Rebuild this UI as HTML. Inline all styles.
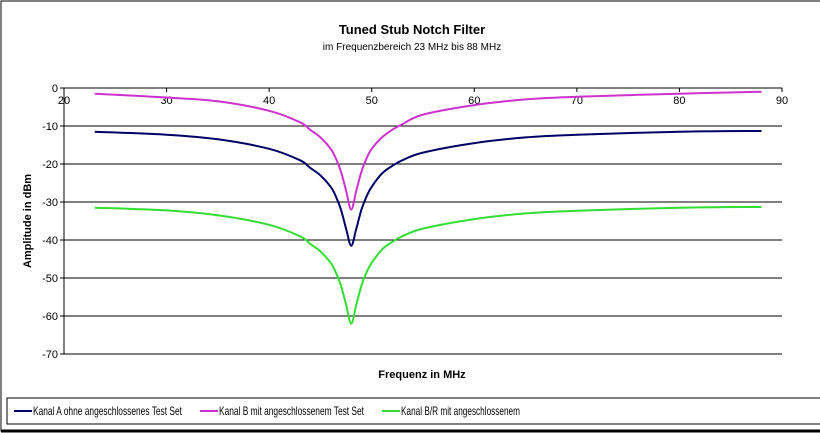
<!DOCTYPE html>
<html><head><meta charset="utf-8"><style>
body{margin:0;background:#fff;}
svg{display:block;font-family:"Liberation Sans",Arial,sans-serif;}
</style></head><body>
<svg id="chart" width="820" height="433" viewBox="0 0 820 433">
<rect x="1" y="1" width="822" height="430" fill="#fff" stroke="#000" stroke-width="1"/>
<line x1="1" y1="431" x2="820" y2="431" stroke="#000" stroke-width="3"/>
<text x="412" y="34" text-anchor="middle" font-size="13" font-weight="bold">Tuned Stub Notch Filter</text>
<text x="412" y="50" text-anchor="middle" font-size="10">im Frequenzbereich 23 MHz bis 88 MHz</text>
<g id="grid"></g><g id="axes"></g><g id="series"></g>
<text x="422" y="378" text-anchor="middle" font-size="11" font-weight="bold">Frequenz in MHz</text>
<text transform="translate(31,221) rotate(-90)" text-anchor="middle" font-size="11" font-weight="bold">Amplitude in dBm</text>
<g>
<rect x="7" y="398" width="820" height="26" fill="#fff" stroke="#000"/>
<g><line x1="14" y1="411" x2="32" y2="411" stroke="#000066" stroke-width="2"/><text x="33" y="415" font-size="12" textLength="149" lengthAdjust="spacingAndGlyphs">Kanal A ohne angeschlossenes Test Set</text></g>
<g><line x1="200" y1="411" x2="218" y2="411" stroke="#cc33cc" stroke-width="2"/><text x="219" y="415" font-size="12" textLength="145" lengthAdjust="spacingAndGlyphs">Kanal B mit angeschlossenem Test Set</text></g>
<g><line x1="382" y1="411" x2="400" y2="411" stroke="#33dd33" stroke-width="2"/><text x="401" y="415" font-size="12" textLength="119" lengthAdjust="spacingAndGlyphs">Kanal B/R mit angeschlossenem</text></g>
</g>
</svg>
<script>
const freqs=[23,30,35,40,43,44,45,46,46.5,47,47.5,48,48.5,49,49.5,50,51,52,53,55,60,65,70,80,88];
const kanalA=[-11.5,-12.3,-13.5,-16,-19,-21,-23,-26,-28.5,-32,-37,-41.5,-37,-32,-28.5,-26,-22.5,-20.5,-19,-17,-14.5,-13,-12.3,-11.5,-11.3];
const kanalB=[-1.5,-2.5,-3.5,-6,-9,-11,-13,-16,-18.5,-22,-27,-32,-27,-22,-18.5,-16,-13,-11,-9.5,-7,-4.5,-3,-2.3,-1.5,-1];
const kanalBR=[-31.5,-32.2,-33.5,-36,-39,-41,-43,-46,-48.5,-52,-57,-62,-57,-52,-48.5,-46,-42.5,-40.5,-39,-37,-34.5,-33,-32.3,-31.5,-31.3];
const xTicks=[20,30,40,50,60,70,80,90];
const yTicks=[0,-10,-20,-30,-40,-50,-60,-70];
const X0=64,X1=782,Y0=88,Y1=354;
const sx=v=>X0+(v-20)/70*(X1-X0);
const sy=v=>Y0+(0-v)/70*(Y1-Y0);
const NS="http://www.w3.org/2000/svg";
function mk(t,a,p){const e=document.createElementNS(NS,t);for(const k in a)e.setAttribute(k,a[k]);p.appendChild(e);return e;}
const grid=document.getElementById('grid'),axes=document.getElementById('axes'),ser=document.getElementById('series');
yTicks.forEach(v=>{
 if(v<0){const g=mk('line',{x1:X0,x2:X1,y1:sy(v),y2:sy(v),stroke:'#000','stroke-width':1},grid);
 
 }
 mk('line',{x1:X0-4,x2:X0,y1:sy(v),y2:sy(v),stroke:'#000'},axes);
 const t=mk('text',{x:X0-6,y:sy(v)+4,'text-anchor':'end','font-size':11},axes);t.textContent=v;
 
 
});
xTicks.forEach(v=>{
 mk('line',{x1:sx(v),x2:sx(v),y1:Y0,y2:Y0+4,stroke:'#000'},axes);
 const t=mk('text',{x:sx(v),y:Y0+16,'text-anchor':'middle','font-size':11},axes);t.textContent=v;
 
 
});
const ya=mk('line',{x1:X0,x2:X0,y1:Y0,y2:Y1,stroke:'#000'},axes);


const xa=mk('line',{x1:X0,x2:X1,y1:Y0,y2:Y0,stroke:'#000'},axes);


function path(vals){
 const p=freqs.map((f,i)=>[sx(f),sy(vals[i])]);
 let d='M'+p[0][0]+','+p[0][1];
 for(let i=0;i<p.length-1;i++){
  const a=p[i-1]||p[i],b=p[i],c=p[i+1],n=p[i+2]||c;
  d+=' C'+(b[0]+(c[0]-a[0])/6)+','+(b[1]+(c[1]-a[1])/6)+' '+(c[0]-(n[0]-b[0])/6)+','+(c[1]-(n[1]-b[1])/6)+' '+c[0]+','+c[1];
 }
 return d;
}
[[kanalA,'#000066','series-kanal-a'],[kanalB,'#cc33cc','series-kanal-b'],[kanalBR,'#33dd33','series-kanal-br']].forEach(s=>{
 const e=mk('path',{d:path(s[0]),fill:'none',stroke:s[1],'stroke-width':2},ser);
 
 
});
</script>
</body></html>
